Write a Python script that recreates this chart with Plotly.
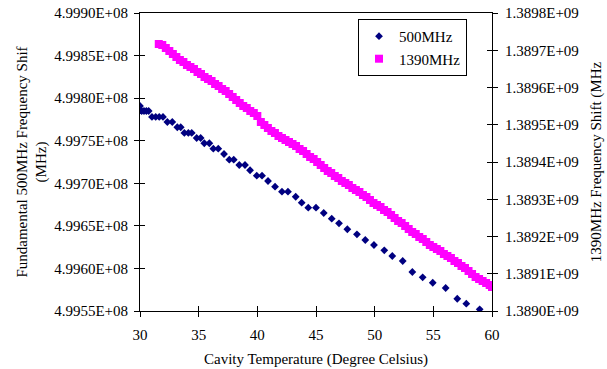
import plotly.graph_objects as go

# ---- data ----
temp_500 = [30.00, 30.14, 30.34, 30.54, 30.74, 31.02, 31.34, 31.64, 31.96, 32.33, 32.75,
            33.18, 33.47, 33.78, 34.12, 34.41, 34.83, 35.17, 35.48, 35.91, 36.25, 36.67,
            37.16, 37.61, 37.99, 38.46, 38.95, 39.38, 39.95, 40.40, 40.91, 41.51, 42.10,
            42.61, 43.27, 43.78, 44.34, 45.00, 45.66, 46.34, 46.96, 47.67, 48.49, 49.20,
            49.94, 50.82, 51.50, 52.39, 53.21, 54.09, 54.95, 56.05, 57.04, 57.81, 58.95]
freq_500 = [499790800, 499784900, 499784900, 499784900, 499784900, 499777900, 499777900,
            499777900, 499777900, 499772000, 499772000, 499765800, 499765800, 499759100,
            499759100, 499759100, 499753200, 499753200, 499747000, 499747000, 499740600,
            499740600, 499734400, 499727700, 499727700, 499721500, 499721500, 499715300,
            499708900, 499708900, 499702700, 499696000, 499690100, 499690100, 499684200,
            499677200, 499671300, 499671300, 499665100, 499658400, 499653000, 499646000,
            499640100, 499633400, 499627500, 499621300, 499614600, 499608700, 499595800,
            499589600, 499583200, 499577000, 499564400, 499558600, 499552000]

temp_1390 = [31.6, 31.9, 32.2, 32.5, 32.8, 33.1, 33.4, 33.7, 34.0, 34.3, 34.6, 34.9, 35.2,
             35.5, 35.8, 36.1, 36.4, 36.7, 37.0, 37.3, 37.6, 37.9, 38.2, 38.5, 38.8, 39.1,
             39.4, 39.7, 40.0, 40.3, 40.6, 40.9, 41.2, 41.5, 41.8, 42.1, 42.4, 42.7, 43.0,
             43.3, 43.6, 43.9, 44.2, 44.5, 44.8, 45.1, 45.4, 45.7, 46.0, 46.3, 46.6, 46.9,
             47.2, 47.5, 47.8, 48.1, 48.4, 48.7, 49.0, 49.3, 49.6, 49.9, 50.2, 50.5, 50.8,
             51.1, 51.4, 51.7, 52.0, 52.3, 52.6, 52.9, 53.2, 53.5, 53.8, 54.1, 54.4, 54.7,
             55.0, 55.3, 55.6, 55.9, 56.2, 56.5, 56.8, 57.1, 57.4, 57.7, 58.0, 58.3, 58.6,
             58.9, 59.2, 59.5, 59.8, 60.0]
freq_1390 = [1389716800, 1389714100, 1389706100, 1389698000, 1389689900, 1389681900,
             1389673800, 1389668500, 1389660400, 1389655000, 1389649700, 1389641600,
             1389636300, 1389628200, 1389622800, 1389617500, 1389609400, 1389604000,
             1389596000, 1389590600, 1389582600, 1389574500, 1389566500, 1389558400,
             1389550300, 1389545000, 1389536900, 1389531600, 1389523500, 1389507400,
             1389499400, 1389491300, 1389483200, 1389477900, 1389469800, 1389464400,
             1389459100, 1389453700, 1389448300, 1389443000, 1389434900, 1389429500,
             1389421500, 1389413400, 1389408100, 1389400000, 1389392000, 1389383900,
             1389375800, 1389370500, 1389362400, 1389357100, 1389349000, 1389343600,
             1389338300, 1389330200, 1389324800, 1389319500, 1389311400, 1389306000,
             1389298000, 1389289900, 1389284600, 1389279200, 1389271100, 1389265800,
             1389257700, 1389249700, 1389241600, 1389236200, 1389228200, 1389220100,
             1389212100, 1389206700, 1389198700, 1389193300, 1389185200, 1389177200,
             1389171800, 1389166400, 1389161100, 1389153000, 1389147700, 1389142300,
             1389134200, 1389128900, 1389120800, 1389115400, 1389107400, 1389099300,
             1389091300, 1389085900, 1389080500, 1389075200, 1389069800, 1389064400]

x_ticks = [30, 35, 40, 45, 50, 55, 60]
left_tickvals = [499550000, 499600000, 499650000, 499700000, 499750000, 499800000,
                 499850000, 499900000]
left_ticktext = ["4.9955E+08", "4.9960E+08", "4.9965E+08", "4.9970E+08", "4.9975E+08",
                 "4.9980E+08", "4.9985E+08", "4.9990E+08"]
right_tickvals = [1389000000, 1389100000, 1389200000, 1389300000, 1389400000,
                  1389500000, 1389600000, 1389700000, 1389800000]
right_ticktext = ["1.3890E+09", "1.3891E+09", "1.3892E+09", "1.3893E+09", "1.3894E+09",
                  "1.3895E+09", "1.3896E+09", "1.3897E+09", "1.3898E+09"]

FONT = "Liberation Serif"
FS = 15
XR = [30, 60]
YR = [499550000, 499900000]
Y2R = [1389000000, 1389800000]

fig = go.Figure()
fig.add_trace(go.Scatter(x=temp_500, y=freq_500, mode="markers", name="500MHz",
                         marker=dict(symbol="diamond", size=6, color="#000080"),
                         xaxis="x", yaxis="y"))
fig.add_trace(go.Scatter(x=temp_1390, y=freq_1390, mode="markers", name="1390MHz",
                         marker=dict(symbol="square", size=8, color="#FF00FF"),
                         xaxis="x", yaxis="y2"))
# invisible helpers so the overlay axes (inside half of crossing ticks) are drawn
fig.add_trace(go.Scatter(x=temp_500, y=freq_500, mode="markers", showlegend=False,
                         marker=dict(opacity=0), hoverinfo="skip", xaxis="x3", yaxis="y3"))
fig.add_trace(go.Scatter(x=temp_1390, y=freq_1390, mode="markers", showlegend=False,
                         marker=dict(opacity=0), hoverinfo="skip", xaxis="x3", yaxis="y4"))

tickfont = dict(family=FONT, size=FS, color="black")
common = dict(showgrid=False, zeroline=False, linecolor="black", linewidth=1,
              tickcolor="black", tickwidth=1, ticklen=5, tickfont=tickfont,
              automargin=False)
inner = dict(showticklabels=False, showline=False, showgrid=False, zeroline=False,
             tickcolor="black", tickwidth=1, ticklen=5, ticks="inside", automargin=False)

fig.update_layout(
    width=607, height=369,
    margin=dict(l=140, r=115, t=13, b=58),
    paper_bgcolor="white", plot_bgcolor="white",
    font=dict(family=FONT, size=FS, color="black"),
    xaxis=dict(range=XR, tickvals=x_ticks, ticks="outside", showline=True, mirror=True,
               ticklabelstandoff=5,
               title=dict(text="Cavity Temperature (Degree Celsius)",
                          font=dict(family=FONT, size=FS), standoff=11), **common),
    yaxis=dict(range=YR, tickvals=left_tickvals, ticktext=left_ticktext, ticks="outside",
               showline=True, ticklabelstandoff=3,
               title=dict(text="Fundamental 500MHz Frequency Shif<br>(MHz)",
                          font=dict(family=FONT, size=FS), standoff=3), **common),
    yaxis2=dict(range=Y2R, tickvals=right_tickvals, ticktext=right_ticktext,
                ticks="outside", showline=True, overlaying="y", side="right",
                ticklabelstandoff=4,
                title=dict(text="1390MHz Frequency Shift (MHz",
                           font=dict(family=FONT, size=FS), standoff=12), **common),
    xaxis3=dict(range=XR, tickvals=x_ticks, overlaying="x", anchor="y3", **inner),
    yaxis3=dict(range=YR, tickvals=left_tickvals, overlaying="y", side="left",
                anchor="x3", **inner),
    yaxis4=dict(range=Y2R, tickvals=right_tickvals, overlaying="y", side="right",
                anchor="x3", **inner),
    legend=dict(x=0.929, y=0.98, xanchor="right", yanchor="top",
                bgcolor="white", bordercolor="black", borderwidth=1,
                font=dict(family=FONT, size=FS, color="black"),
                itemwidth=30, tracegroupgap=0),
    showlegend=True,
)

fig.write_html("out.html", config={"displayModeBar": False},
               post_script="document.body.style.margin='0px';")
